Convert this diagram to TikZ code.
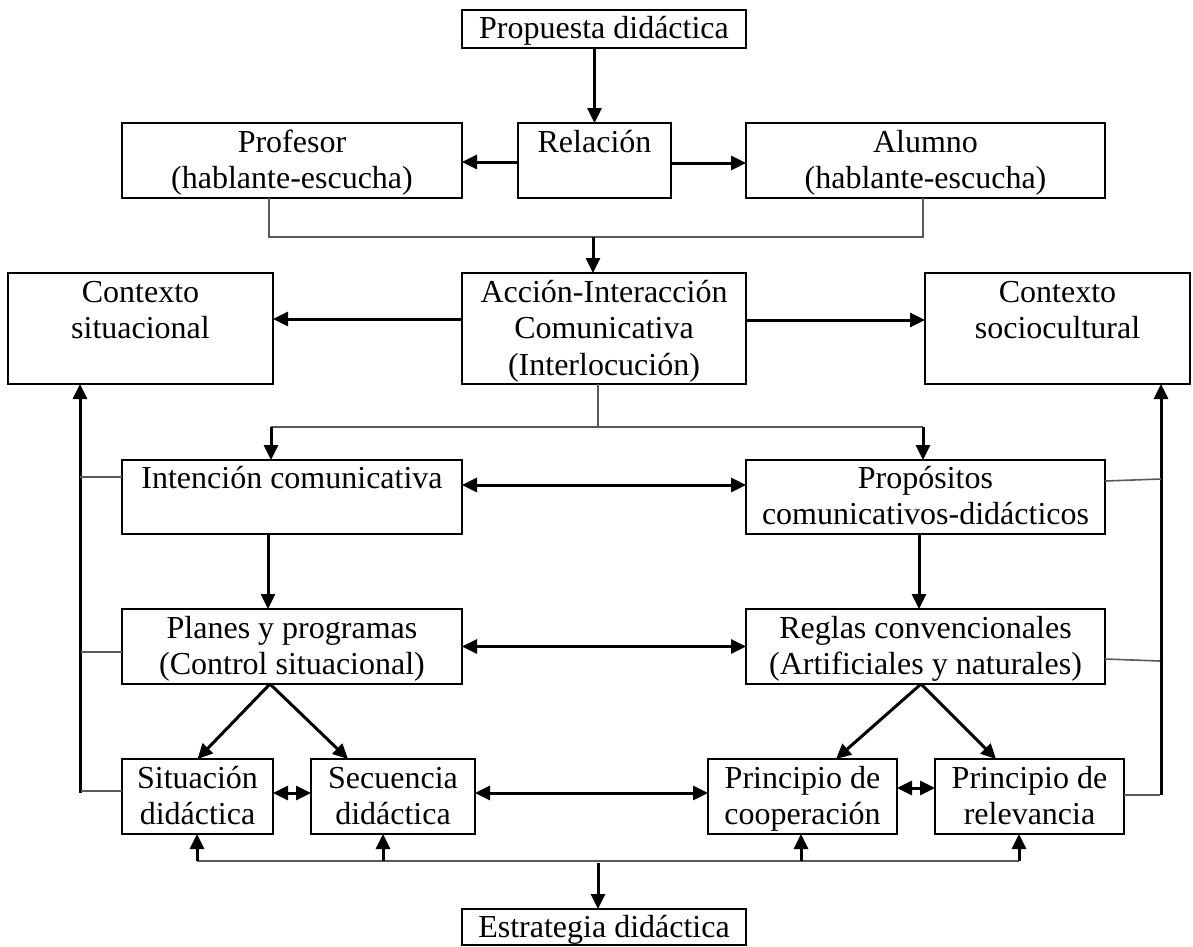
\documentclass[tikz,border=0pt]{standalone}
\usepackage{fontspec}
\setmainfont{Liberation Serif}
\usetikzlibrary{arrows.meta}
\newcommand{\tb}[1]{\begin{tabular}[t]{@{}c@{}}#1\end{tabular}}
\begin{document}
\begin{tikzpicture}[x=1pt,y=-1pt,
  box/.style={draw=black, line width=2.6pt, rectangle, inner sep=0pt, outer sep=0pt},
  txt/.style={anchor=base, inner sep=0pt, font=\fontsize{32}{36.5}\selectfont},
  arr/.style={line width=3pt, -{Triangle[length=15pt,width=14pt]}},
  darr/.style={line width=3pt, {Triangle[length=15pt,width=14pt]}-{Triangle[length=15pt,width=14pt]}},
  thinl/.style={draw=black!65, line width=1.6pt},
  busl/.style={draw=black!65, line width=2.4pt}]
\useasboundingbox[fill=white] (0,0) rectangle (1193,946);

% boxes
\node[box, minimum width=284pt, minimum height=38pt] (prop) at (604,29) {};
\node[box, minimum width=340pt, minimum height=75pt] (prof) at (292,160.5) {};
\node[box, minimum width=153pt, minimum height=75pt] (rel) at (594.5,160.5) {};
\node[box, minimum width=359pt, minimum height=75pt] (alum) at (925.5,160.5) {};
\node[box, minimum width=265pt, minimum height=111pt] (csit) at (140.5,328.5) {};
\node[box, minimum width=284pt, minimum height=111pt] (acc) at (604,328.5) {};
\node[box, minimum width=265pt, minimum height=111pt] (csoc) at (1057.5,328.5) {};
\node[box, minimum width=340pt, minimum height=74pt] (int) at (292,497) {};
\node[box, minimum width=359pt, minimum height=74pt] (pro) at (925.5,497) {};
\node[box, minimum width=340pt, minimum height=75pt] (pla) at (292,646.5) {};
\node[box, minimum width=359pt, minimum height=75pt] (reg) at (925.5,646.5) {};
\node[box, minimum width=151pt, minimum height=75pt] (sit) at (197.5,796.5) {};
\node[box, minimum width=164pt, minimum height=75pt] (sec) at (393,796.5) {};
\node[box, minimum width=189pt, minimum height=75pt] (coo) at (802.5,796.5) {};
\node[box, minimum width=189pt, minimum height=75pt] (rlv) at (1029.5,796.5) {};
\node[box, minimum width=284pt, minimum height=36pt] (est) at (604,927) {};

% texts
\node[txt] (prop-t) at (604,38) {\tb{Propuesta didáctica}};
\node[txt] (prof-t) at (292,152) {\tb{Profesor\\(hablante-escucha)}};
\node[txt] (rel-t) at (594.5,152) {\tb{Relación}};
\node[txt] (alum-t) at (925.5,152) {\tb{Alumno\\(hablante-escucha)}};
\node[txt] (csit-t) at (140.5,302) {\tb{Contexto\\situacional}};
\node[txt] (acc-t) at (604,302) {\tb{Acción-Interacción\\Comunicativa\\(Interlocución)}};
\node[txt] (csoc-t) at (1057.5,302) {\tb{Contexto\\sociocultural}};
\node[txt] (int-t) at (292,488) {\tb{Intención comunicativa}};
\node[txt] (pro-t) at (925.5,488) {\tb{Propósitos\\comunicativos-didácticos}};
\node[txt] (pla-t) at (292,638) {\tb{Planes y programas\\(Control situacional)}};
\node[txt] (reg-t) at (925.5,638) {\tb{Reglas convencionales\\(Artificiales y naturales)}};
\node[txt] (sit-t) at (197.5,788) {\tb{Situación\\didáctica}};
\node[txt] (sec-t) at (393,788) {\tb{Secuencia\\didáctica}};
\node[txt] (coo-t) at (802.5,788) {\tb{Principio de\\cooperación}};
\node[txt] (rlv-t) at (1029.5,788) {\tb{Principio de\\relevancia}};
\node[txt] (est-t) at (604,937) {\tb{Estrategia didáctica}};

% junction coordinates
\coordinate (j1) at (593,237);
\coordinate (j2) at (598,427);
\coordinate (j2l) at (271,427);
\coordinate (j2r) at (923,427);
\coordinate (b1) at (197,861);
\coordinate (b2) at (383,861);
\coordinate (b3) at (801,861);
\coordinate (b4) at (1019,861);
\coordinate (b5) at (598,863);
\coordinate (lv) at (80,793);
\coordinate (rv) at (1161,795);

% top
\draw[arr] (prop.south -| rel.north) -- (rel.north);
\draw[arr] ([yshift=-1.5pt]rel.west) -- ([yshift=-1.5pt]prof.east);
\draw[arr] ([yshift=-2.5pt]rel.east) -- ([yshift=-2.5pt]alum.west);
\draw[thinl] ([xshift=-23pt]prof.south) |- (j1) -| ([xshift=-2.5pt]alum.south);
\draw[arr] (j1) -- (j1 |- acc.north);

% middle
\draw[arr] ([yshift=9.5pt]acc.west) -- ([yshift=9.5pt]csit.east);
\draw[arr] ([yshift=8.5pt]acc.east) -- ([yshift=8.5pt]csoc.west);
\draw[thinl] (acc.south -| j2) -- (j2);
\draw[thinl] (j2l) -- (j2r);
\draw[arr] (j2l) -- (j2l |- int.north);
\draw[arr] (j2r) -- (j2r |- pro.north);
\draw[darr] ([yshift=12pt]int.east) -- ([yshift=12pt]pro.west);
\draw[arr] ([xshift=-24pt]int.south) -- ([xshift=-24pt]pla.north);
\draw[arr] ([xshift=-6.5pt]pro.south) -- ([xshift=-6.5pt]reg.north);
\draw[darr] (pla.east) -- (reg.west);

% lower
\draw[arr] ([xshift=-22pt]pla.south) -- (sit.north);
\draw[arr] ([xshift=-22pt]pla.south) -- ([xshift=-45pt]sec.north);
\draw[arr] ([xshift=-4.5pt]reg.south) -- ([xshift=33.5pt]coo.north);
\draw[arr] ([xshift=-4.5pt]reg.south) -- ([xshift=-33.5pt]rlv.north);
\draw[darr] ([yshift=3.5pt]sit.east) -- ([yshift=3.5pt]sec.west);
\draw[darr] ([yshift=3.5pt]sec.east) -- ([yshift=3.5pt]coo.west);
\draw[darr] ([yshift=8.5pt]coo.east) -- ([yshift=8.5pt]rlv.west);

% bottom bus
\draw[busl] (b1) -- (b4);
\draw[arr] (b1) -- (b1 |- sit.south);
\draw[arr] (b2) -- (b2 |- sec.south);
\draw[arr] (b3) -- (b3 |- coo.south);
\draw[arr] (b4) -- (b4 |- rlv.south);
\draw[arr] (b5) -- (b5 |- est.north);

% left feedback line
\draw[arr] (lv) -- (lv |- csit.south);
\draw[thinl] ([yshift=20pt]int.west) -- ++(-42,0);
\draw[thinl] ([yshift=-5.5pt]pla.west) -- ++(-41,0);
\draw[thinl] ([yshift=5.5pt]sit.west) -- ++(-41,0);

% right feedback line
\draw[arr] (rv) -- (rv |- csoc.south);
\draw[thinl] ([yshift=16pt]pro.east) -- (1161,479);
\draw[thinl] ([yshift=-12.5pt]reg.east) -- (1160,661);
\draw[thinl] ([yshift=1.5pt]rlv.east) -- (1160,795);
\end{tikzpicture}
\end{document}
